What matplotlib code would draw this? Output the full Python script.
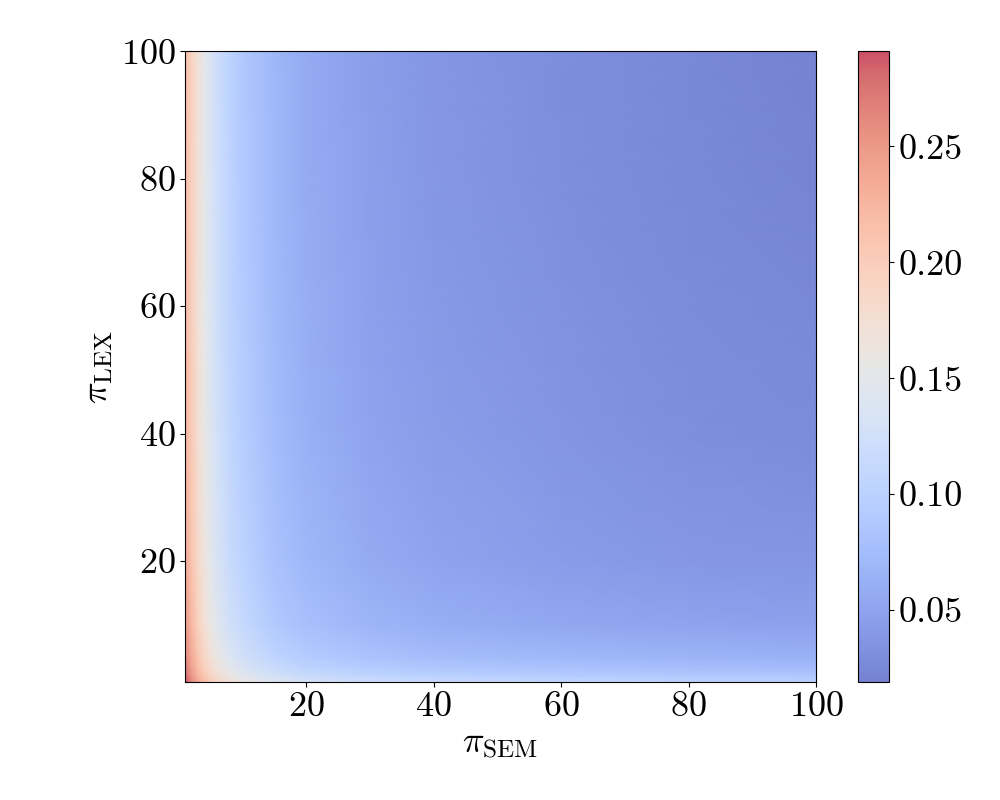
import numpy as np
import matplotlib
matplotlib.use('Agg')
import matplotlib.pyplot as plt
from matplotlib.colors import ListedColormap

plt.rcParams['font.family'] = 'serif'
plt.rcParams['font.serif'] = ['cmr10']
plt.rcParams['mathtext.fontset'] = 'cm'
plt.rcParams['axes.formatter.use_mathtext'] = True

pi_sem = [1, 2, 3, 4, 5, 6, 8, 10, 15, 20, 30, 40, 60, 80, 100]
pi_lex = [1, 2, 3, 5, 10, 20, 40, 60, 80, 100]

# one row per pi_lex value, one column per pi_sem value
values = [
    [0.291, 0.262, 0.238, 0.218, 0.202, 0.190, 0.174, 0.161, 0.142, 0.131, 0.121, 0.116, 0.110, 0.105, 0.101],
    [0.282, 0.252, 0.226, 0.206, 0.190, 0.177, 0.160, 0.147, 0.127, 0.116, 0.106, 0.100, 0.094, 0.090, 0.087],
    [0.276, 0.245, 0.219, 0.198, 0.182, 0.169, 0.151, 0.138, 0.117, 0.106, 0.095, 0.089, 0.083, 0.079, 0.076],
    [0.266, 0.236, 0.209, 0.188, 0.172, 0.159, 0.140, 0.127, 0.105, 0.093, 0.082, 0.076, 0.070, 0.066, 0.063],
    [0.252, 0.223, 0.196, 0.175, 0.159, 0.145, 0.126, 0.113, 0.091, 0.079, 0.067, 0.061, 0.054, 0.050, 0.047],
    [0.238, 0.211, 0.185, 0.165, 0.149, 0.135, 0.116, 0.103, 0.081, 0.069, 0.057, 0.050, 0.043, 0.039, 0.036],
    [0.227, 0.202, 0.177, 0.158, 0.142, 0.128, 0.109, 0.096, 0.075, 0.063, 0.050, 0.044, 0.036, 0.031, 0.028],
    [0.222, 0.198, 0.173, 0.154, 0.139, 0.125, 0.106, 0.093, 0.072, 0.060, 0.047, 0.041, 0.033, 0.028, 0.025],
    [0.219, 0.196, 0.171, 0.152, 0.137, 0.123, 0.104, 0.091, 0.070, 0.058, 0.046, 0.039, 0.031, 0.026, 0.022],
    [0.217, 0.194, 0.170, 0.151, 0.136, 0.122, 0.103, 0.090, 0.069, 0.057, 0.045, 0.038, 0.030, 0.025, 0.019],
]

# coolwarm at 70% opacity over white, baked in so gouraud shading has no seams
base = plt.get_cmap('coolwarm')(np.linspace(0, 1, 256))
faded = base.copy()
faded[:, :3] = 0.7 * base[:, :3] + 0.3
faded[:, 3] = 1.0
cmap = ListedColormap(faded)

fig = plt.figure(figsize=(10, 8), dpi=100)
ax = fig.add_axes([0.185, 0.1475, 0.631, 0.7885])
cax = fig.add_axes([0.858, 0.1475, 0.031, 0.7885])

X, Y = np.meshgrid(pi_sem, pi_lex)
mesh = ax.pcolormesh(X, Y, np.array(values), cmap=cmap, shading='gouraud',
                     rasterized=True)
ax.set_xlim(1, 100)
ax.set_ylim(1, 100)
ax.set_xticks([20, 40, 60, 80, 100])
ax.set_yticks([20, 40, 60, 80, 100])
ax.tick_params(labelsize=26)
ax.set_xlabel(r'$\pi_{\mathrm{SEM}}$', fontsize=26)
ax.set_ylabel(r'$\pi_{\mathrm{LEX}}$', fontsize=26)

cb = fig.colorbar(mesh, cax=cax)
cb.set_ticks([0.05, 0.10, 0.15, 0.20, 0.25])
cb.ax.set_yticklabels(['0.05', '0.10', '0.15', '0.20', '0.25'])
cb.ax.tick_params(labelsize=26)
cb.outline.set_linewidth(0.8)

plt.savefig('out.png', dpi=100, facecolor='white')
plt.close()
